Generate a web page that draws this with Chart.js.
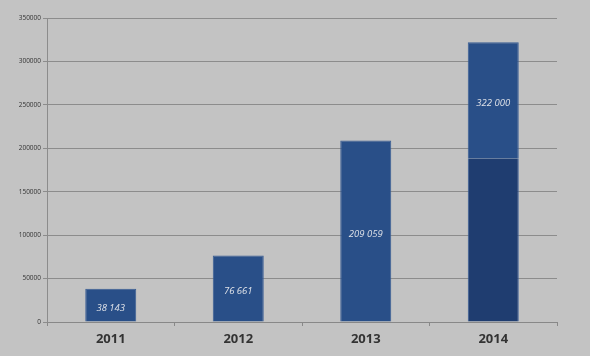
<!DOCTYPE html>
<html><head><meta charset="utf-8">
<script src="https://cdn.jsdelivr.net/npm/chart.js@4"></script>
<style>html,body{margin:0;padding:0;background:#c3c3c3;}#wrap{width:590px;height:356px;}</style>
</head><body><div id="wrap"><canvas id="c" width="590" height="356"></canvas></div>
<script>
const categories = ["2011", "2012", "2013", "2014"];
const lowerValues = [38143, 76661, 209059, 188000];
const upperValues = [0, 0, 0, 134000];
const valueLabels = ["38 143", "76 661", "209 059", "322 000"];
const yTicks = [0, 50000, 100000, 150000, 200000, 250000, 300000, 350000];

const LIGHT = "rgb(41,79,136)";
const DARK = "rgb(31,61,112)";
const EDGE = "rgb(56,92,148)";

const labelPlugin = {
  id: "valueLabels",
  afterDatasetsDraw(chart) {
    const ctx = chart.ctx;
    ctx.save();
    ctx.font = "italic 9.5px 'Open Sans'";
    ctx.fillStyle = "#dfe2e8";
    ctx.textAlign = "center";
    ctx.textBaseline = "middle";
    categories.forEach((c, i) => {
      const metaIdx = upperValues[i] > 0 ? 1 : 0;
      const el = chart.getDatasetMeta(metaIdx).data[i];
      const y = (el.y + el.base) / 2 + 3;
      ctx.fillText(valueLabels[i], el.x, y);
    });
    ctx.restore();
  }
};

new Chart(document.getElementById("c"), {
  type: "bar",
  data: {
    labels: categories,
    datasets: [
      { data: lowerValues,
        backgroundColor: lowerValues.map((v, i) => upperValues[i] > 0 ? DARK : LIGHT),
        borderColor: EDGE, borderSkipped: false,
        borderWidth: c => ({ left: 1, right: 1, bottom: 0, top: upperValues[c.dataIndex] > 0 ? 0 : 1 }) },
      { data: upperValues, backgroundColor: LIGHT, borderColor: EDGE, borderSkipped: false,
        borderWidth: { left: 1, right: 1, top: 1, bottom: 0 } }
    ]
  },
  options: {
    responsive: false,
    animation: false,
    layout: { padding: { top: 18, right: 33, left: 0, bottom: 0 } },
    plugins: { legend: { display: false }, tooltip: { enabled: false } },
    datasets: { bar: { categoryPercentage: 1, barPercentage: 0.4 } },
    scales: {
      x: {
        stacked: true,
        grid: { display: true, drawOnChartArea: false, drawTicks: true, tickLength: 4, color: "#888", offset: true },
        border: { display: true, color: "#888", width: 1 },
        ticks: { color: "#333", font: { family: "'Open Sans'", weight: "bold", size: 13 }, padding: 5 },
        afterFit(s) { s.height = 34; }
      },
      y: {
        stacked: true,
        min: 0, max: 350000,
        afterBuildTicks(s) { s.ticks = yTicks.map(v => ({ value: v })); },
        grid: { color: "#8c8c8c", lineWidth: 1, tickLength: 4 },
        border: { display: true, color: "#8c8c8c", width: 1 },
        ticks: { color: "#333", font: { family: "'Open Sans'", size: 6.5 }, padding: 2, callback: v => String(v) },
        afterFit(s) { s.width = 47; }
      }
    }
  },
  plugins: [labelPlugin]
});
</script>
</body></html>
